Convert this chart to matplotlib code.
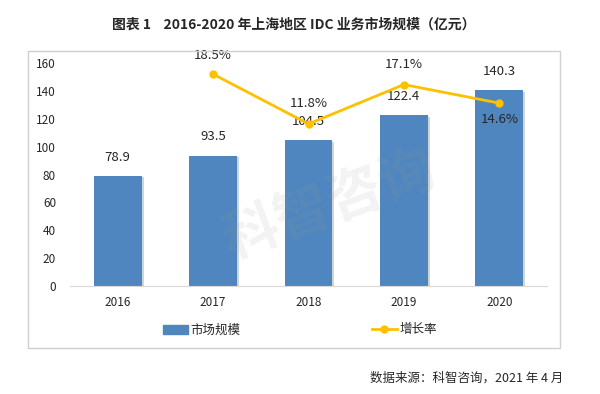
import matplotlib
matplotlib.use("Agg")
import matplotlib.pyplot as plt
import matplotlib.patheffects as pe
from matplotlib.patches import Rectangle
from matplotlib.lines import Line2D

plt.rcParams['font.family'] = ['Noto Sans CJK SC', 'DejaVu Sans']

# data
years = ["2016", "2017", "2018", "2019", "2020"]
market_size = [78.9, 93.5, 104.5, 122.4, 140.3]
growth_years = ["2017", "2018", "2019", "2020"]
growth_rate = [18.5, 11.8, 17.1, 14.6]

bar_color = "#4F86BF"
line_color = "#FFC000"
text_color = "#262626"

fig = plt.figure(figsize=(6.0, 3.94), dpi=100)

# outer frame round the chart
fig.patches.append(Rectangle((28 / 600, 1 - 348 / 394), 532 / 600, 297 / 394,
                             transform=fig.transFigure, fill=False,
                             edgecolor="#D0D0D0", linewidth=1.0))

ax = fig.add_axes([70 / 600, 1 - 286 / 394, 477 / 600, 223 / 394])
x = list(range(len(years)))
bars = ax.bar(x, market_size, width=0.5, color=bar_color, zorder=2)
for b in bars:
    b.set_path_effects([pe.SimplePatchShadow(offset=(1.5, -1), alpha=0.2), pe.Normal()])
for xi, v in zip(x, market_size):
    ax.annotate(f"{v:.1f}", (xi, v), xytext=(0, 9), textcoords="offset points",
                ha="center", va="bottom", fontsize=9.5, color=text_color)

ax.set_xlim(-0.5, len(years) - 0.5)
ax.set_ylim(0, 160)
ax.set_yticks(range(0, 161, 20))
ax.set_xticks(x)
ax.set_xticklabels(years)
ax.tick_params(axis="both", length=0, labelsize=8.5, colors=text_color)
ax.tick_params(axis="y", pad=10)
ax.tick_params(axis="x", pad=7)
for s in ["top", "right", "left"]:
    ax.spines[s].set_visible(False)
ax.spines["bottom"].set_color("#D9D9D9")

# growth rate on hidden secondary axis
ax2 = ax.twinx()
gx = [years.index(y) for y in growth_years]
ax2.plot(gx, growth_rate, color=line_color, linewidth=2, marker="o", markersize=5, zorder=3)
ax2.set_ylim(-10, 20)
ax2.set_axis_off()
offsets = [9, 10, 10, -7]
for xi, v, off in zip(gx, growth_rate, offsets):
    ax2.annotate(f"{v:.1f}%", (xi, v), xytext=(0, off), textcoords="offset points",
                 ha="center", va="bottom" if off > 0 else "top", fontsize=9.5, color=text_color)

# faint watermark
fig.text(0.55, 0.48, "科智咨询", fontsize=40, fontweight="bold", color="#9A9A9A",
         alpha=0.12, rotation=20, ha="center", va="center", zorder=5)

# legend
handles = [Rectangle((0, 0), 1, 1, color=bar_color),
           Line2D([0], [0], color=line_color, linewidth=2, marker="o", markersize=5)]
fig.legend(handles, ["市场规模", "增长率"], loc="center", bbox_to_anchor=(0.5, 1 - 330 / 394),
           ncol=2, frameon=False, fontsize=9, handlelength=2.0, handletextpad=0.2,
           columnspacing=10.5, labelcolor=text_color)

fig.text(0.49, 1 - 25 / 394, "图表 1    2016-2020 年上海地区 IDC 业务市场规模（亿元）",
         ha="center", va="center", fontsize=10, fontweight="bold", color=text_color)
fig.text(563 / 600, 1 - 378 / 394, "数据来源：科智咨询，2021 年 4 月",
         ha="right", va="center", fontsize=9, color=text_color)

fig.savefig("out.png", dpi=100)
